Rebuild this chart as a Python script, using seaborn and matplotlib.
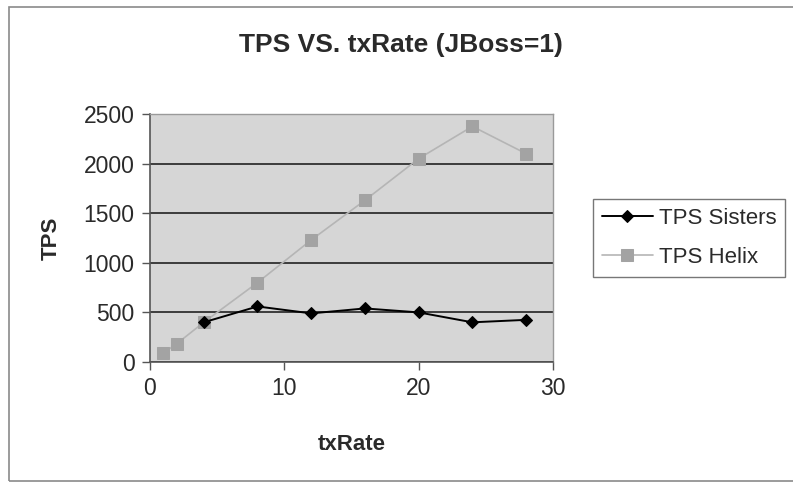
import matplotlib
matplotlib.use("Agg")
import matplotlib.pyplot as plt
import seaborn as sns
import pandas as pd
from matplotlib.patches import Rectangle

# Data
helix_x = [1, 2, 4, 8, 12, 16, 20, 24, 28]
helix_tps = [90, 185, 400, 800, 1230, 1630, 2050, 2375, 2100]
sisters_x = [4, 8, 12, 16, 20, 24, 28]
sisters_tps = [400, 560, 490, 540, 500, 400, 425]

title = "TPS VS. txRate (JBoss=1)"
xlabel = "txRate"
ylabel = "TPS"
xticks = [0, 10, 20, 30]
yticks = [0, 500, 1000, 1500, 2000, 2500]

sns.set_theme(style="white")
plt.rcParams['font.family'] = ['Liberation Sans', 'DejaVu Sans']

fig = plt.figure(figsize=(7.93, 4.82), dpi=100)
ax = fig.add_axes([150/793, 1-362/482, (553-150)/793, (362-114)/482])
ax.set_facecolor("#d6d6d6")

# Outer chart border
fig.patches.append(Rectangle((9/793, 0.002), 1.0, 1-7/482-0.002, transform=fig.transFigure,
                             fill=False, edgecolor="#8a8a8a", linewidth=1.2))

df_h = pd.DataFrame({"x": helix_x, "y": helix_tps})
df_s = pd.DataFrame({"x": sisters_x, "y": sisters_tps})

sns.lineplot(data=df_h, x="x", y="y", ax=ax, color="#b5b5b5", linewidth=1.2,
             marker="s", markersize=8, markerfacecolor="#a3a3a3",
             markeredgecolor="#a3a3a3", label="TPS Helix", zorder=3)
sns.lineplot(data=df_s, x="x", y="y", ax=ax, color="black", linewidth=1.4,
             marker="D", markersize=6, markerfacecolor="black",
             markeredgecolor="black", label="TPS Sisters", zorder=4)

ax.set_xlim(0, 30)
ax.set_ylim(0, 2500)
ax.set_xticks(xticks)
ax.set_yticks(yticks)
ax.yaxis.grid(True, color="#222222", linewidth=1.2)
ax.xaxis.grid(False)
ax.set_axisbelow(True)

for side in ["top", "right"]:
    ax.spines[side].set_color("#9a9a9a")
    ax.spines[side].set_linewidth(1.0)
for side in ["left", "bottom"]:
    ax.spines[side].set_color("#555555")
    ax.spines[side].set_linewidth(1.2)

ax.tick_params(axis="both", direction="out", length=6, width=1, color="#555555",
               labelsize=16.5, labelcolor="#2a2a2a", left=True, bottom=True, pad=5)

ax.set_xlabel(xlabel, fontsize=16, fontweight="bold", color="#2a2a2a", labelpad=24)
ax.set_ylabel(ylabel, fontsize=16, fontweight="bold", color="#2a2a2a", labelpad=16)
fig.text(401/793, 1-45/482, title, ha="center", va="center", fontsize=19,
         fontweight="bold", color="#2a2a2a")

handles, labels = ax.get_legend_handles_labels()
order = [labels.index("TPS Sisters"), labels.index("TPS Helix")]
leg = ax.legend([handles[i] for i in order], [labels[i] for i in order],
                loc="upper left", bbox_to_anchor=(593/793, 1-199/482),
                bbox_transform=fig.transFigure, fontsize=16, frameon=True,
                fancybox=False, edgecolor="#555555", handlelength=2.3,
                borderpad=0.4, labelspacing=0.8, handletextpad=0.25,
                borderaxespad=0)
leg.get_frame().set_linewidth(1.0)
for t in leg.get_texts():
    t.set_color("#2a2a2a")

fig.savefig("out.png", dpi=100)
